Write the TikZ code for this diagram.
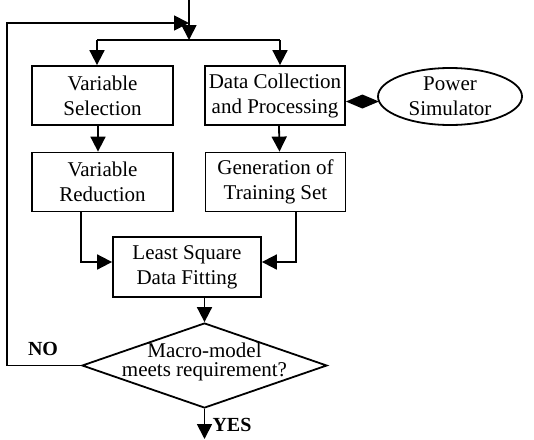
\documentclass[tikz,border=0pt]{standalone}
\usepackage{fontspec}
\setmainfont{Liberation Serif}
\usetikzlibrary{arrows.meta,shapes.geometric,calc}
\begin{document}
\begin{tikzpicture}[x=1pt,y=-1pt,
  every node/.style={inner sep=0pt},
  box/.style={draw,line width=1.8pt,minimum width=141pt,minimum height=59pt,
    align=center,font=\fontsize{21}{25}\selectfont},
  line/.style={line width=1.8pt},
  flow/.style={line width=1.8pt,-{Triangle[length=15pt,width=15pt]}},
  dtip/.style={line width=1.8pt,-{Diamond[length=33pt,width=14pt]}},
  answer/.style={font=\fontsize{20}{24}\selectfont\bfseries}]
\useasboundingbox (0,0) rectangle (534,439);

% process boxes
\node[box] (vs) at (102.5,95.5) {Variable\\Selection};
\node[box] (vr) at (102.5,182) {Variable\\Reduction};
\node[box,minimum width=140pt] (dc) at (275,95.5) {Data Collection\\and Processing};
\node[box,minimum width=140pt] (gt) at (275.5,182) {Generation of\\Training Set};
\node[box,minimum width=148pt,minimum height=60pt] (ls) at (187,267) {Least Square\\Data Fitting};
\node[draw,line width=1.8pt,ellipse,minimum width=144pt,minimum height=57pt,
  align=center,font=\fontsize{21}{25}\selectfont] (ps) at (450,96.5) {Power\\Simulator};

% decision
\node[draw,line width=1.8pt,diamond,minimum width=245pt,minimum height=85pt] (dm) at (204.5,365.5) {};
\node[align=center,font=\fontsize{21}{19}\selectfont] (dmtext) at (204.5,362) {Macro-model\\meets requirement?};

% entry and split
\coordinate (in) at (189,0);
\coordinate (sp) at (189,40);
\coordinate (spl) at (97,40);
\coordinate (spr) at (280,40);
\coordinate (fb) at (7,23);
\coordinate (out) at (204.5,439);

\draw[flow] (in) -- (sp);
\draw[line] (spl) -- (spr);
\draw[flow] (spl) -- (spl |- vs.north);
\draw[flow] (spr) -- (spr |- dc.north);

\draw[flow] ([xshift=-4.5pt]vs.south) -- ([xshift=-4.5pt]vr.north);
\draw[flow] ([xshift=4pt]dc.south) -- ([xshift=4pt]gt.north);
\draw[flow] ([xshift=-21.5pt]vr.south) |- ([yshift=5pt]ls.west);
\draw[flow] ([xshift=20.5pt]gt.south) |- ([yshift=5pt]ls.east);
\draw[flow] (ls.south -| dm.north) -- (dm.north);

\draw[dtip] (ps.184) -- (ps.184 -| dc.east);

% loop back and exit
\draw[flow] (dm.west) -| (fb) -- (fb -| in);
\draw[flow] (dm.south) -- (out);

\node[answer] (no) at (43,349) {NO};
\node[answer] (yes) at (232,425) {YES};
\end{tikzpicture}
\end{document}
